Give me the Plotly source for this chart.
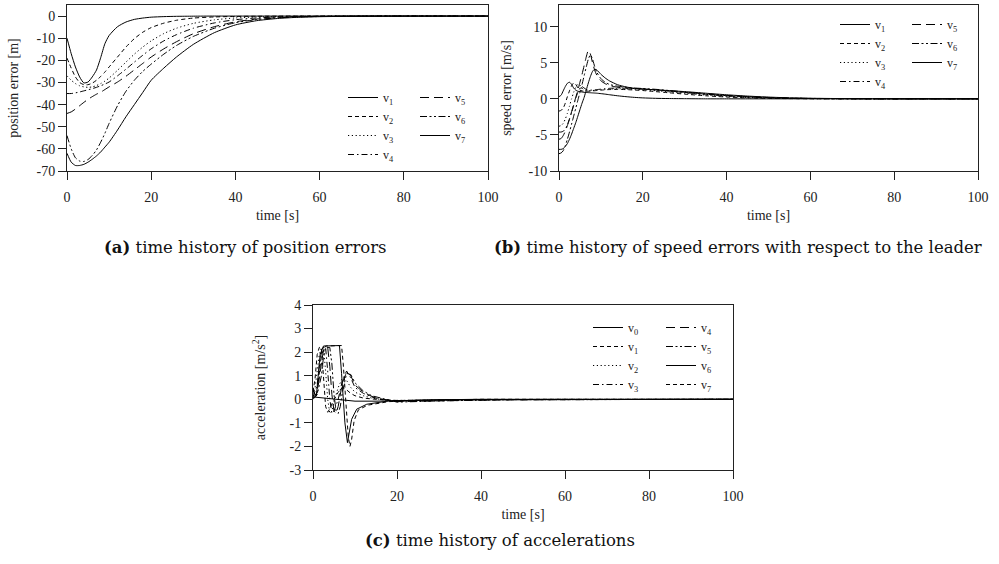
import plotly.graph_objects as go

# ---------------- data ----------------
# (a) position errors [m]
t_a = [0, 1, 2, 3, 4, 5, 6, 7, 8, 9, 10, 12, 14, 16, 18, 20, 23, 26, 30, 35, 40, 45, 50, 55, 60, 70, 80, 100]
pos_v1 = [-10, -17, -23, -27.5, -30.2, -29.8, -27.5, -24.4, -18.8, -12.5, -8.8, -4.8, -2.7, -1.5, -0.9, -0.5, -0.25, -0.12, -0.05, 0, 0, 0, 0, 0, 0, 0, 0, 0]
pos_v2 = [-19, -23.5, -27.5, -30, -31, -31, -30.3, -29, -27.3, -25.3, -23, -18.5, -14, -10.2, -7.3, -5.2, -3.2, -1.9, -0.9, -0.4, -0.18, -0.08, -0.03, 0, 0, 0, 0, 0]
pos_v3 = [-27, -29, -30.5, -31.5, -32, -32.2, -32, -31.4, -30.5, -29.4, -28, -24.5, -20.8, -17.2, -14, -11.2, -7.9, -5.5, -3.3, -1.7, -0.85, -0.4, -0.18, -0.08, -0.03, 0, 0, 0]
pos_v4 = [-35, -35, -34.7, -34.3, -33.8, -33.3, -32.8, -32.2, -31.5, -30.7, -29.8, -27, -24, -20.8, -17.7, -14.8, -11.2, -8.4, -5.5, -3.1, -1.65, -0.85, -0.42, -0.2, -0.1, -0.02, 0, 0]
pos_v5 = [-44, -43.3, -42, -40.5, -39, -37.6, -36.4, -35.3, -34.4, -33.2, -32, -29.8, -27.2, -24.3, -21.4, -18.5, -14.8, -11.6, -8, -4.8, -2.6, -1.35, -0.7, -0.35, -0.17, -0.04, 0, 0]
pos_v6 = [-54, -60, -64, -65.5, -65.7, -64.8, -63, -60.5, -57, -53, -48.5, -40.5, -34, -29, -25, -21.7, -17.2, -13.3, -9.2, -5.5, -3.0, -1.6, -0.8, -0.4, -0.2, -0.05, 0, 0]
pos_v7 = [-62, -66, -67.5, -67.5, -67, -66, -64.7, -63.2, -61.4, -59.2, -57, -51.5, -45.5, -40, -34.5, -29, -23.5, -18.5, -12.8, -7.5, -4.0, -2.1, -1.1, -0.55, -0.28, -0.07, -0.02, 0]

# (b) speed errors with respect to the leader [m/s]
t_b = [0, 0.5, 1, 1.5, 2, 2.5, 3, 3.5, 4, 4.5, 5, 5.5, 6, 6.5, 7, 7.5, 8, 8.5, 9, 10, 11, 12, 14, 16, 18, 20, 23, 26, 30, 35, 40, 45, 50, 55, 60, 70, 80, 100]
spd_v1 = [0.3, 0.5, 1.1, 1.7, 2.15, 2.3, 2.0, 1.5, 1.2, 1.05, 1.0, 0.95, 0.9, 0.88, 0.86, 0.84, 0.82, 0.8, 0.78, 0.72, 0.65, 0.57, 0.42, 0.3, 0.2, 0.13, 0.07, 0.04, 0.02, 0, 0, 0, 0, 0, 0, 0, 0, 0]
spd_v2 = [-1.7, -1.6, -1.3, -0.6, 0.3, 1.1, 1.8, 2.2, 2.0, 1.5, 1.2, 1.1, 1.05, 1.05, 1.05, 1.07, 1.1, 1.12, 1.15, 1.2, 1.25, 1.28, 1.3, 1.28, 1.22, 1.15, 1.0, 0.85, 0.65, 0.42, 0.25, 0.14, 0.07, 0.03, 0.01, 0, 0, 0]
spd_v3 = [-3.8, -3.7, -3.4, -2.8, -2.0, -1.0, 0.0, 0.9, 1.6, 2.0, 1.9, 1.5, 1.25, 1.15, 1.12, 1.12, 1.15, 1.18, 1.2, 1.27, 1.32, 1.36, 1.4, 1.38, 1.33, 1.27, 1.13, 0.97, 0.76, 0.52, 0.33, 0.19, 0.1, 0.05, 0.02, 0, 0, 0]
spd_v4 = [-4.6, -4.6, -4.5, -4.2, -3.6, -2.8, -1.9, -0.9, 0.1, 0.9, 1.5, 1.7, 1.5, 1.3, 1.2, 1.2, 1.22, 1.25, 1.28, 1.34, 1.4, 1.45, 1.5, 1.48, 1.43, 1.37, 1.24, 1.08, 0.87, 0.62, 0.41, 0.25, 0.14, 0.07, 0.04, 0.01, 0, 0]
spd_v5 = [-5.6, -5.5, -5.1, -4.5, -3.7, -2.8, -1.8, -0.8, 0.2, 1.2, 2.3, 3.4, 4.6, 5.8, 6.7, 6.2, 5.0, 4.0, 3.3, 2.5, 2.1, 1.85, 1.6, 1.5, 1.43, 1.37, 1.25, 1.1, 0.9, 0.65, 0.44, 0.28, 0.16, 0.09, 0.05, 0.01, 0, 0]
spd_v6 = [-7.6, -7.5, -7.2, -6.5, -5.6, -4.6, -3.5, -2.4, -1.3, -0.2, 0.9, 2.0, 3.2, 4.4, 5.5, 6.1, 5.5, 4.5, 3.7, 2.8, 2.3, 2.0, 1.75, 1.6, 1.5, 1.43, 1.32, 1.17, 0.96, 0.7, 0.48, 0.31, 0.19, 0.11, 0.06, 0.02, 0, 0]
spd_v7 = [-7.0, -7.0, -6.9, -6.6, -6.2, -5.6, -4.9, -4.1, -3.3, -2.4, -1.5, -0.6, 0.2, 1.2, 2.2, 3.1, 3.8, 4.1, 4.0, 3.4, 2.9, 2.5, 1.95, 1.65, 1.45, 1.35, 1.25, 1.15, 1.0, 0.78, 0.56, 0.38, 0.24, 0.14, 0.08, 0.02, 0, 0]

# (c) accelerations [m/s^2]
t_c0 = [0, 5, 10, 15, 20, 30, 100]
acc_v0 = [0.1, 0.02, -0.08, -0.08, -0.05, -0.02, 0]
t_c1 = [0, 0.5, 1, 1.5, 2, 2.5, 3, 3.5, 4, 5, 6, 7, 8, 9, 10, 12, 15, 20, 25, 30, 40, 60, 100]
acc_v1 = [0.3, 0.9, 1.9, 2.2, 2.2, 1.0, -0.3, -0.55, -0.4, 0.0, 0.3, 0.5, 0.4, 0.25, 0.15, 0.05, 0.0, -0.05, -0.05, -0.03, -0.02, 0, 0]
t_c2 = [0, 0.5, 1, 1.5, 2, 2.5, 3, 3.5, 4, 4.5, 5, 6, 7, 8, 9, 10, 12, 14, 18, 25, 40, 100]
acc_v2 = [0.2, 0.5, 1.2, 1.9, 2.2, 2.2, 1.2, 0.0, -0.6, -0.5, -0.1, 0.5, 0.9, 0.8, 0.5, 0.3, 0.15, 0.05, -0.05, -0.05, -0.02, 0]
t_c3 = [0, 1, 1.5, 2, 2.5, 3, 3.5, 4, 4.5, 5, 6, 7, 8, 9, 10, 12, 14, 16, 20, 30, 45, 100]
acc_v3 = [0.1, 0.6, 1.4, 2.0, 2.2, 2.2, 1.2, 0.0, -0.6, -0.5, 0.0, 0.8, 1.2, 0.9, 0.5, 0.25, 0.1, 0.0, -0.08, -0.05, -0.02, 0]
t_c4 = [0, 1, 2, 2.5, 3, 3.5, 4, 4.5, 5, 5.5, 6, 7, 8, 9, 10, 12, 14, 16, 20, 30, 45, 100]
acc_v4 = [0.05, 0.3, 1.5, 2.1, 2.2, 2.2, 1.4, 0.2, -0.5, -0.6, -0.3, 0.7, 1.15, 1.0, 0.6, 0.3, 0.12, 0.02, -0.1, -0.06, -0.02, 0]
t_c5 = [0, 1, 2, 2.5, 3, 4, 4.5, 5, 5.5, 6, 6.5, 7, 8, 9, 10, 12, 14, 16, 20, 30, 45, 100]
acc_v5 = [0.0, 0.2, 1.0, 1.8, 2.2, 2.2, 1.5, 0.2, -0.5, -0.6, -0.3, 0.3, 1.1, 1.05, 0.7, 0.35, 0.15, 0.05, -0.12, -0.07, -0.02, 0]
t_c6 = [0, 0.4, 0.8, 1.2, 1.7, 2.5, 6.3, 6.8, 7.2, 7.6, 8.2, 8.6, 9.2, 10.4, 12.8, 18, 23, 30, 40, 100]
acc_v6 = [0.5, 0.2, 0.14, 1.0, 1.9, 2.26, 2.28, 1.1, 0.0, -1.0, -1.84, -1.5, -0.85, -0.42, -0.21, -0.07, -0.04, -0.02, 0, 0]
t_c7 = [0, 0.5, 1, 1.5, 2, 3, 6.8, 7.2, 7.6, 8.0, 8.4, 8.8, 9.2, 9.8, 10.8, 13, 18, 25, 40, 100]
acc_v7 = [0.4, 0.15, 0.3, 1.2, 1.9, 2.26, 2.28, 1.5, 0.3, -0.8, -1.6, -2.0, -1.7, -0.9, -0.45, -0.25, -0.1, -0.05, 0, 0]

x_ticks = [0, 20, 40, 60, 80, 100]
y_ticks_a = [-70, -60, -50, -40, -30, -20, -10, 0]
y_text_a = ["-70", "-60", "-50", "-40", "-30", "-20", "-10", "0"]
y_ticks_b = [-10, -5, 0, 5, 10]
y_text_b = ["-10", "-5", "0", "5", "10"]
y_ticks_c = [-3, -2, -1, 0, 1, 2, 3, 4]
y_text_c = ["-3", "-2", "-1", "0", "1", "2", "3", "4"]

# ---------------- styles ----------------
SOLID = "solid"
DASH = "4px,3px"
DOT = "1.2px,2.6px"
DASHDOT = "6px,3px,1.5px,3px"
LONGDASH = "9px,5px"
DASHDOTDOT = "7px,2.5px,2px,2.5px,2px,2.5px"

SERIF = "Liberation Serif"
CAPFONT = "DejaVu Serif"

fig = go.Figure()


def add(x, y, name, dash, xa, ya, leg, shape="spline"):
    fig.add_trace(go.Scatter(
        x=x, y=y, mode="lines", name=name,
        line=dict(color="black", width=1, dash=dash, shape=shape, smoothing=0.6),
        xaxis=xa, yaxis=ya, legend=leg))


# panel a
add(t_a, pos_v1, "v<sub>1</sub>", SOLID, "x", "y", "legend")
add(t_a, pos_v2, "v<sub>2</sub>", DASH, "x", "y", "legend")
add(t_a, pos_v3, "v<sub>3</sub>", DOT, "x", "y", "legend")
add(t_a, pos_v4, "v<sub>4</sub>", DASHDOT, "x", "y", "legend")
add(t_a, pos_v5, "v<sub>5</sub>", LONGDASH, "x", "y", "legend2")
add(t_a, pos_v6, "v<sub>6</sub>", DASHDOTDOT, "x", "y", "legend2")
add(t_a, pos_v7, "v<sub>7</sub>", SOLID, "x", "y", "legend2")

# panel b
add(t_b, spd_v1, "v<sub>1</sub>", SOLID, "x2", "y2", "legend3")
add(t_b, spd_v2, "v<sub>2</sub>", DASH, "x2", "y2", "legend3")
add(t_b, spd_v3, "v<sub>3</sub>", DOT, "x2", "y2", "legend3")
add(t_b, spd_v4, "v<sub>4</sub>", DASHDOT, "x2", "y2", "legend3")
add(t_b, spd_v5, "v<sub>5</sub>", LONGDASH, "x2", "y2", "legend4")
add(t_b, spd_v6, "v<sub>6</sub>", DASHDOTDOT, "x2", "y2", "legend4")
add(t_b, spd_v7, "v<sub>7</sub>", SOLID, "x2", "y2", "legend4")

# panel c
add(t_c0, acc_v0, "v<sub>0</sub>", SOLID, "x3", "y3", "legend5", "linear")
add(t_c1, acc_v1, "v<sub>1</sub>", DASH, "x3", "y3", "legend5", "linear")
add(t_c2, acc_v2, "v<sub>2</sub>", DOT, "x3", "y3", "legend5", "linear")
add(t_c3, acc_v3, "v<sub>3</sub>", DASHDOT, "x3", "y3", "legend5", "linear")
add(t_c4, acc_v4, "v<sub>4</sub>", LONGDASH, "x3", "y3", "legend6", "linear")
add(t_c5, acc_v5, "v<sub>5</sub>", DASHDOTDOT, "x3", "y3", "legend6", "linear")
add(t_c6, acc_v6, "v<sub>6</sub>", SOLID, "x3", "y3", "legend6", "linear")
add(t_c7, acc_v7, "v<sub>7</sub>", DASH, "x3", "y3", "legend6", "linear")

W, H = 999, 564


def px_x(p):
    return p / W


def px_y(p):
    return 1 - p / H


axis_common = dict(showline=True, linecolor="#222", linewidth=1, mirror=True,
                   ticks="outside", ticklen=8, tickcolor="#222", tickwidth=1,
                   showgrid=False, zeroline=False, automargin=False,
                   tickfont=dict(family=SERIF, size=14, color="#222"),
                   title_font=dict(family=SERIF, size=14, color="#222"))

xa_common = dict(axis_common, range=[0, 100], tickvals=x_ticks, ticklabelstandoff=5)

layout = dict(
    width=W, height=H, margin=dict(l=0, r=0, t=0, b=0),
    paper_bgcolor="white", plot_bgcolor="white",
    xaxis=dict(xa_common, domain=[px_x(67), px_x(488)], anchor="y",
               title=dict(text="time [s]", standoff=6)),
    yaxis=dict(axis_common, domain=[px_y(171), px_y(5)], anchor="x", range=[-70, 5],
               tickvals=y_ticks_a, ticktext=y_text_a,
               title=dict(text="position error [m]", standoff=14)),
    xaxis2=dict(xa_common, domain=[px_x(559), px_x(978)], anchor="y2",
                title=dict(text="time [s]", standoff=6)),
    yaxis2=dict(axis_common, domain=[px_y(171), px_y(5)], anchor="x2", range=[-10, 13],
                tickvals=y_ticks_b, ticktext=y_text_b,
                title=dict(text="speed error [m/s]", standoff=13)),
    xaxis3=dict(xa_common, domain=[px_x(313), px_x(733)], anchor="y3",
                title=dict(text="time [s]", standoff=6)),
    yaxis3=dict(axis_common, domain=[px_y(470), px_y(305)], anchor="x3", range=[-3, 4],
                tickvals=y_ticks_c, ticktext=y_text_c,
                title=dict(text="acceleration [m/s<sup>2</sup>]", standoff=20)),
)

leg_common = dict(bgcolor="rgba(0,0,0,0)", borderwidth=0, xanchor="left", yanchor="top",
                  font=dict(family=SERIF, size=12, color="#222"), tracegroupgap=0,
                  itemwidth=30)
layout["legend"] = dict(leg_common, x=px_x(343), y=px_y(83))
layout["legend2"] = dict(leg_common, x=px_x(415), y=px_y(83))
layout["legend3"] = dict(leg_common, x=px_x(835), y=px_y(10))
layout["legend4"] = dict(leg_common, x=px_x(907), y=px_y(10))
layout["legend5"] = dict(leg_common, x=px_x(588), y=px_y(313))
layout["legend6"] = dict(leg_common, x=px_x(661), y=px_y(313))

fig.update_layout(**layout)

cap_font = dict(family=CAPFONT, size=16.5, color="#111")
for txt, cx, cy in [("<b>(a)</b> time history of position errors", 245, 247),
                    ("<b>(b)</b> time history of speed errors with respect to the leader", 738, 247),
                    ("<b>(c)</b> time history of accelerations", 500, 540)]:
    fig.add_annotation(text=txt, x=px_x(cx), y=px_y(cy), xref="paper", yref="paper",
                       xanchor="center", yanchor="middle", showarrow=False, font=cap_font)

# remove the browser's default 8 px page margin so the figure sits at (0, 0)
fig.write_html("out.html", config={"displayModeBar": False},
               post_script="document.body.style.margin='0px';")
